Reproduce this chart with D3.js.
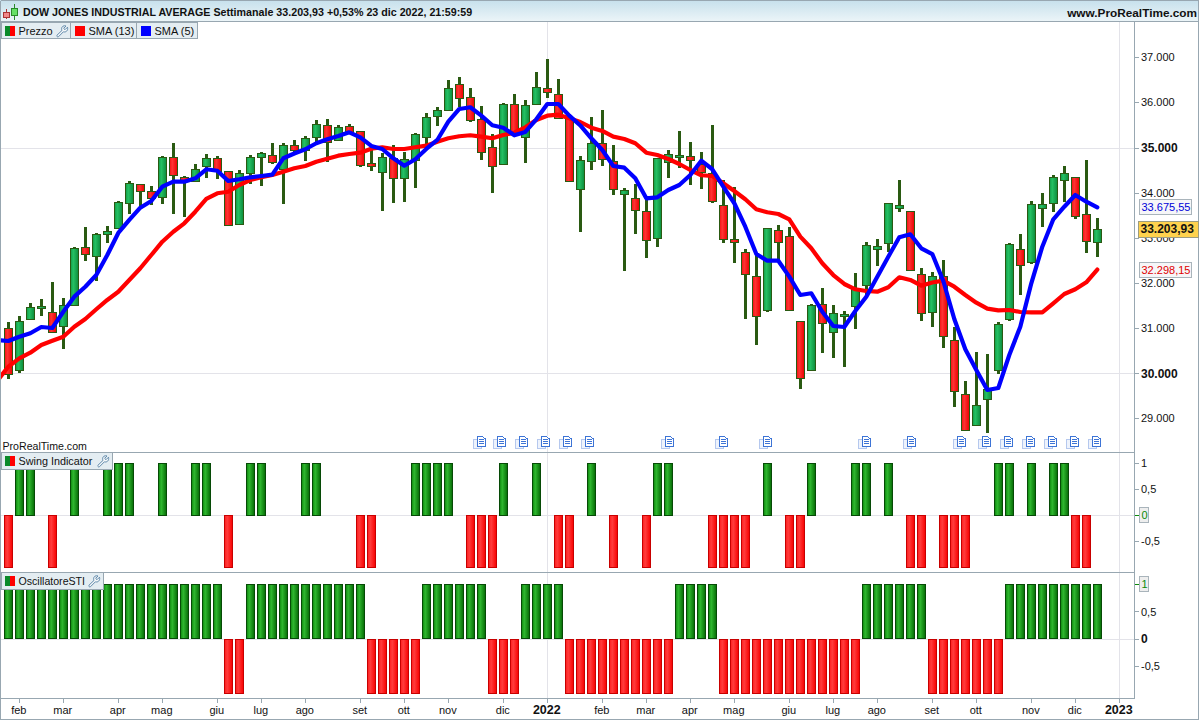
<!DOCTYPE html>
<html><head><meta charset="utf-8">
<script src="https://cdn.jsdelivr.net/npm/d3@7/dist/d3.min.js"></script>
<style>
html,body{margin:0;padding:0;background:#fff;overflow:hidden}
svg{display:block}
text{font-family:"Liberation Sans",Arial,sans-serif;font-size:11px;fill:#111}
</style></head><body><svg id="c" width="1200" height="720"></svg>
<script>
const titleText="DOW JONES INDUSTRIAL AVERAGE Settimanale 33.203,93 +0,53% 23 dic 2022, 21:59:59";
const opens=[30997,30066,31196,31453,31364,31048,31497,32791,32583,33070,
33203,33766,34186,34031,33898,34784,34355,34253,34585,34762,
34474,33291,34430,34784,34829,34519,35050,34939,35227,35493,
35161,35471,35360,34651,34452,34769,34319,34725,35227,35693,
35825,36401,36113,35626,35006,34629,35958,35227,35958,36313,
36180,35648,34076,34696,35095,34696,33965,33876,33588,32990,
34674,34798,34807,34629,34430,33721,32968,32680,32149,31395,
33167,33035,31152,30066,31528,30908,31263,31484,31945,32747,
32880,33668,33588,32193,31351,32149,30731,29535,28848,29424,
30066,31196,32747,32459,33655,33766,34275,34341,33522,32924];
const highs=[31136,31269,31557,31646,32016,31661,32791,33234,33101,33263,
33810,34253,34186,34149,34807,35095,34377,34636,34857,34807,
34474,34496,34829,34902,35095,35095,35168,35256,35611,35626,
35493,35515,35360,34946,34873,35050,34908,35316,35759,35892,
36490,36556,36313,35914,35294,35980,36180,36047,36667,36955,
36512,35648,34807,35670,35832,35050,34098,34186,33883,34762,
34939,35360,35117,34895,35500,34282,34120,32747,32620,33212,
33278,33240,31152,31528,31883,31506,31373,32215,32902,32968,
33766,34275,33588,32326,32237,32503,31019,29823,30465,30421,
31130,32880,33079,33810,33987,34386,34585,34341,34718,33433];
const lows=[29867,30013,31196,31276,30899,30545,31497,32494,32051,32893,
33203,33528,33677,33734,33757,33535,33469,34253,34333,34310,
33278,33291,34186,34142,34643,33743,34873,34709,35101,34687,
35161,35300,34576,34487,33602,33779,33801,34111,35019,35484,
35803,35892,35560,34731,34000,34629,35278,34651,35958,36091,
35626,34231,33136,34496,34598,33956,32273,33092,32561,32804,
34333,34541,34177,34089,33766,32893,32450,31209,30633,31364,
32510,31395,29652,30066,30443,30346,30146,30975,31734,32377,
32693,33579,32281,31165,31032,30554,29247,28715,28848,28671,
29991,31152,31728,32414,33234,33566,33788,33411,32658,32569];
const closes=[29984,31152,31462,31491,30921,31513,32769,32627,33079,33145,
33788,34209,34031,33876,34784,34386,34297,34519,34762,34474,
33278,34430,34784,34873,34674,35050,34939,35205,35522,35117,
35449,35323,34607,34585,34784,34319,34740,35294,35670,35825,
36313,36091,35604,34902,34585,35958,35316,35936,36335,36224,
35648,34253,34718,35095,34740,34076,34053,33610,32946,34762,
34851,34829,34718,34452,33810,32968,32902,32193,31263,33212,
32902,31395,29889,31506,31108,31329,31307,31883,32835,32813,
33766,33728,32281,31329,32149,30820,29601,28737,29291,29646,
31085,32857,32392,33743,33743,34341,34430,33478,32924,33204];
/* first value of each SMA belongs to the week just before the first candle */
const sma5=[30738,30715,30811,30886,31026,31003,31364,31697,31918,32177,
32620,33108,33396,33668,33816,34133,34244,34244,34319,34519,
34487,34259,34297,34341,34370,34399,34762,34869,34962,35095,
35183,35256,35338,35227,35035,34968,34762,34598,34740,34968,
35168,35573,35854,35892,35706,35493,35440,35272,35345,35626,
35965,35965,35706,35489,35205,34946,34592,34554,34319,33876,
33898,34060,34171,34392,34709,34519,34133,33766,33247,32642,
32494,32494,32140,31734,31772,31364,31048,31026,31380,31697,
32140,32583,33012,33079,32769,32642,32044,31203,30532,30073,
29630,29674,30405,31032,31994,32804,33411,33690,33949,33801,33675.55];
const sma13=[29836,30146,30332,30456,30627,30722,30811,31032,31203,31418,
31624,31807,32067,32326,32620,32915,33136,33322,33579,33861,
33987,34022,34171,34282,34341,34392,34465,34541,34592,34687,
34753,34820,34857,34886,34975,35006,34968,34968,35006,35041,
35130,35205,35250,35272,35241,35205,35278,35329,35449,35611,
35706,35728,35648,35566,35440,35367,35241,35190,35095,34886,
34835,34747,34636,34503,34386,34370,34209,34038,33854,33633,
33566,33528,33411,33026,32769,32437,32177,31978,31861,31823,
31807,31905,32126,32067,31940,32011,32051,31918,31734,31564,
31431,31395,31402,31358,31351,31351,31551,31756,31861,32016,32298.15];
const swing=[-1,1,1,0,-1,0,1,0,0,1,1,1,0,0,1,0,0,1,1,0,
-1,0,1,1,0,0,0,1,1,0,0,0,-1,-1,0,0,0,1,1,1,
1,0,-1,-1,-1,1,0,0,1,0,-1,-1,0,1,0,-1,0,0,-1,1,
1,0,0,0,-1,-1,-1,-1,0,1,0,-1,-1,1,0,0,0,1,1,0,
1,0,-1,-1,0,-1,-1,-1,0,0,1,1,0,1,0,1,1,-1,-1,0];
const sti=[1,1,1,1,1,1,1,1,1,1,1,1,1,1,1,1,1,1,1,1,
-1,-1,1,1,1,1,1,1,1,1,1,1,1,-1,-1,-1,-1,-1,1,1,
1,1,1,1,-1,-1,-1,1,1,1,1,-1,-1,-1,-1,-1,-1,-1,-1,-1,
-1,1,1,1,1,-1,-1,-1,-1,-1,-1,-1,-1,-1,-1,-1,-1,-1,1,1,
1,1,1,1,-1,-1,-1,-1,-1,-1,-1,1,1,1,1,1,1,1,1,1];
const priceTicks=[29000,30000,31000,32000,33000,34000,35000,36000,37000];
const boldPriceTicks=[30000,35000];
const oscTicks=[-0.5,0,0.5,1];
const timeLabels=["feb","mar","apr","mag","giu","lug","ago","set","ott","nov","dic","2022","feb","mar","apr","mag","giu","lug","ago","set","ott","nov","dic","2023"];
const timeWeeks=[1,5,10,14,19,23,27,32,36,40,45,49,54,58,62,66,71,75,79,84,88,93,97,101];
const newsWeeks=[43,44.8,46.8,48.8,50.8,52.8,60.1,65,69,78,82.1,86.6,88.9,90.85,92.85,94.85,96.85,98.85];
const lastSma5=33675.55, lastClose=33203.93, lastSma13=32298.15;

const svg=d3.select("#c");
const defs=svg.append("defs");
function grad(id,stops){
  const g=defs.append("linearGradient").attr("id",id).attr("x1",0).attr("x2",1).attr("y1",0).attr("y2",0);
  stops.forEach(s=>g.append("stop").attr("offset",s[0]).attr("stop-color",s[1]));
}
grad("cg",[[0,"#119a47"],[0.35,"#25c163"],[1,"#0c8a3c"]]);
grad("cr",[[0,"#f01010"],[0.35,"#ff3434"],[1,"#ea0000"]]);
grad("bg",[[0,"#0c860c"],[0.35,"#2fb82f"],[1,"#056a05"]]);
grad("br",[[0,"#ff1c1c"],[0.35,"#ff3c3c"],[1,"#f80000"]]);
const tb=defs.append("linearGradient").attr("id","tbar").attr("x1",0).attr("x2",0).attr("y1",0).attr("y2",1);
tb.append("stop").attr("offset",0).attr("stop-color","#c6e0ec");
tb.append("stop").attr("offset",1).attr("stop-color","#ecf5f8");
defs.append("clipPath").attr("id","plot").append("rect").attr("x",1).attr("y",22).attr("width",1133).attr("height",430);

const BORDER="#98a7b1", GRID="#e3e3e9", WICK="#2a5a12";
const x=d3.scaleLinear().domain([0,101]).range([8.3,1119.3]);
const yP=d3.scaleLinear().domain([29000,37000]).range([418.45,57.25]);
const yS=d3.scaleLinear().domain([-1,1]).range([567.3,463.3]);
const yO=d3.scaleLinear().domain([-1,1]).range([693,584.3]);
const loc=d3.formatLocale({decimal:",",thousands:".",grouping:[3],currency:["","€"],minus:"-"});
const fmtP=loc.format(",d"), fmtO=loc.format("~g"), fmtTag=loc.format(",.2f");

/* grid */
const grid=svg.append("g").attr("stroke",GRID).attr("shape-rendering","crispEdges");
[x(49),x(101)].forEach(v=>grid.append("line").attr("x1",Math.round(v)+.5).attr("x2",Math.round(v)+.5).attr("y1",22).attr("y2",698));
[yP(30000),yP(35000),yS(0),yO(0)].forEach(v=>grid.append("line").attr("x1",1).attr("x2",1134).attr("y1",Math.round(v)+.5).attr("y2",Math.round(v)+.5));

/* candles */
const idx=d3.range(opens.length);
const candles=svg.append("g").attr("clip-path","url(#plot)").attr("shape-rendering","crispEdges");
candles.selectAll("rect.w").data(idx).join("rect").attr("class","w")
  .attr("x",i=>Math.round(x(i))-1).attr("width",3)
  .attr("y",i=>yP(highs[i])).attr("height",i=>yP(lows[i])-yP(highs[i]))
  .attr("fill",WICK);
candles.selectAll("rect.b").data(idx).join("rect").attr("class","b")
  .attr("x",i=>Math.round(x(i)-4)+.5).attr("width",8)
  .attr("y",i=>Math.round(yP(Math.max(opens[i],closes[i])))+.5)
  .attr("height",i=>Math.max(2,Math.round(yP(Math.min(opens[i],closes[i]))-yP(Math.max(opens[i],closes[i])))))
  .attr("fill",i=>closes[i]>=opens[i]?"url(#cg)":"url(#cr)")
  .attr("stroke",WICK);

/* moving averages */
const line=d3.line().x((d,i)=>x(i-1)).y(d=>yP(d));
const lines=svg.append("g").attr("clip-path","url(#plot)").attr("fill","none").attr("stroke-width",4.2).attr("stroke-linejoin","round").attr("stroke-linecap","round");
lines.append("path").attr("d",line(sma13)).attr("stroke","#ff0000");
lines.append("path").attr("d",line(sma5)).attr("stroke","#0000ff");

/* indicator panels */
function panel(vals,y){
  const g=svg.append("g").attr("shape-rendering","crispEdges");
  g.selectAll("rect").data(idx.filter(i=>vals[i]!==0)).join("rect")
    .attr("x",i=>Math.round(x(i)-4)+.5).attr("width",8)
    .attr("y",i=>Math.round(Math.min(y(vals[i]),y(0)))+.5)
    .attr("height",i=>Math.round(Math.abs(y(vals[i])-y(0))))
    .attr("fill",i=>vals[i]>0?"url(#bg)":"url(#br)")
    .attr("stroke",i=>vals[i]>0?"#064a06":"#c80000");
}
panel(swing,yS); panel(sti,yO);

/* news icons */
const news=svg.append("g").attr("shape-rendering","crispEdges");
newsWeeks.forEach(w=>{
  const cx=Math.round(x(w))+1;
  const n=news.append("g").attr("transform",`translate(${cx},441)`);
  n.append("rect").attr("x",-8.5).attr("y",-1.5).attr("width",8).attr("height",9).attr("fill","#eef3fc").attr("stroke","#b5c8ee");
  n.append("rect").attr("x",-4.5).attr("y",-4.5).attr("width",8).attr("height",10).attr("fill","#fff").attr("stroke","#3d74d6");
  [-2,0,2].forEach(dy=>n.append("rect").attr("x",-3).attr("y",dy).attr("width",5).attr("height",1).attr("fill","#3d74d6"));
  n.append("rect").attr("x",1).attr("y",-5).attr("width",3).attr("height",2).attr("fill","#fff");
  n.append("path").attr("d","M0.5 -4.5 L3.5 -1.5").attr("stroke","#3d74d6").attr("fill","none");
});

/* frame */
const fr=svg.append("g").attr("stroke",BORDER).attr("shape-rendering","crispEdges");
svg.insert("rect","defs + *").attr("x",0).attr("y",0).attr("width",1199).attr("height",21.5).attr("fill","url(#tbar)");
[[0.5,0.5,0.5,719.5],[1198.5,0.5,1198.5,719.5],[0.5,0.5,1198.5,0.5],[0.5,21.5,1198.5,21.5],[0.5,719.5,1198.5,719.5],
 [0.5,452.5,1134.5,452.5],[0.5,572.5,1134.5,572.5],[0.5,698.5,1134.5,698.5],[1134.5,21.5,1134.5,698.5]]
 .forEach(l=>fr.append("line").attr("x1",l[0]).attr("y1",l[1]).attr("x2",l[2]).attr("y2",l[3]));

/* value axes */
function styleAxis(g){
  g.select(".domain").remove();
  g.selectAll(".tick line").attr("stroke",BORDER).attr("shape-rendering","crispEdges");
  g.selectAll(".tick text").attr("fill","#111").style("font-size","11px");
}
const axP=svg.append("g").attr("transform","translate(1135,0)")
  .call(d3.axisRight(yP).tickValues(priceTicks).tickSize(4).tickPadding(2).tickFormat(fmtP)).call(styleAxis);
axP.selectAll(".tick text").filter(d=>boldPriceTicks.includes(d)).style("font-weight","bold").style("font-size","12px");
const axS=svg.append("g").attr("transform","translate(1135,0)")
  .call(d3.axisRight(yS).tickValues(oscTicks).tickSize(4).tickPadding(2).tickFormat(fmtO)).call(styleAxis);
const axO=svg.append("g").attr("transform","translate(1135,0)")
  .call(d3.axisRight(yO).tickValues(oscTicks).tickSize(4).tickPadding(2).tickFormat(fmtO)).call(styleAxis);
axO.selectAll(".tick text").filter(d=>d===0).style("font-weight","bold").style("font-size","12px");

/* time axis */
const axT=svg.append("g").attr("transform","translate(0,698.5)")
  .call(d3.axisBottom(x).tickValues(timeWeeks).tickSize(4).tickPadding(4).tickFormat((d,i)=>timeLabels[i]));
axT.select(".domain").remove();
axT.selectAll(".tick line").attr("stroke",BORDER).attr("shape-rendering","crispEdges");
axT.selectAll(".tick text").attr("fill","#111").attr("dx",-1).style("font-size","11px");
axT.selectAll(".tick text").filter((d,i)=>/^\d/.test(timeLabels[i])).style("font-weight","bold").style("font-size","12.5px").attr("dy","0.62em");

/* value tags */
function tag(cy,txt,o){
  const g=svg.append("g");
  g.append("rect").attr("x",o.x+.5).attr("y",Math.round(cy-8)+.5).attr("width",o.w).attr("height",o.h||15)
    .attr("fill",o.fill).attr("stroke",o.stroke||"#a9b4bb").attr("shape-rendering","crispEdges");
  g.append("text").attr("x",o.x+2.5).attr("y",cy+4).text(txt).style("fill",o.color).style("font-weight",o.bold?"bold":"normal").style("font-size",o.size||"11px");
}
tag(yP(lastSma5),fmtTag(lastSma5),{x:1139,w:52,fill:"#f6f6f8",color:"#0000d8"});
tag(yP(lastSma13),fmtTag(lastSma13),{x:1139,w:52,fill:"#f6f6f8",color:"#e00000"});
tag(yP(lastClose),fmtTag(lastClose),{x:1138,w:60,h:16,fill:"#ffd24d",color:"#111",bold:true,size:"12px",stroke:"#9c9c80"});
function zeroTag(cy,txt){
  svg.append("line").attr("x1",1135).attr("x2",1139).attr("y1",Math.round(cy)+.5).attr("y2",Math.round(cy)+.5).attr("stroke","#0a8a0a").attr("shape-rendering","crispEdges");
  tag(cy,txt,{x:1139,w:9,fill:"#eeeeee",color:"#0a8a0a"});
}
axS.selectAll(".tick").filter(d=>d===0).select("text").remove();
axO.selectAll(".tick").filter(d=>d===1).select("text").remove();
zeroTag(yS(0),fmtO(0)); zeroTag(yO(1),fmtO(1));

/* header text */
svg.append("text").attr("x",23).attr("y",16).text(titleText).style("font-weight","bold").style("font-size","10.7px");
svg.append("text").attr("x",1197).attr("y",17).attr("text-anchor","end").text("www.ProRealTime.com").style("font-weight","bold").style("font-size","11.8px");
svg.append("text").attr("x",2.5).attr("y",450).text("ProRealTime.com").style("font-size","10.6px");

/* title icon */
const ic=svg.append("g").attr("shape-rendering","crispEdges");
ic.append("rect").attr("x",5.5).attr("y",9).attr("width",1).attr("height",10).attr("fill","#a33");
ic.append("rect").attr("x",3.5).attr("y",12.5).attr("width",6).attr("height",5).attr("fill","#f08888").attr("stroke","#a33");
ic.append("rect").attr("x",13.5).attr("y",4).attr("width",1).attr("height",16).attr("fill","#2a8a2a");
ic.append("rect").attr("x",11.5).attr("y",8.5).attr("width",6).attr("height",7).attr("fill","#66e066").attr("stroke","#2a8a2a");

/* legend boxes */
function wrench(gx,gy,g){
  g.append("path").attr("transform",`translate(${gx},${gy})`)
   .attr("d","M11.5 2.2 L9 4.7 L7.6 3.3 L10 1 C8 .1 5.6 1.4 5.6 3.8 C5.6 4.5 5.8 5 6 5.4 L1 10.2 C.2 11 1.6 12.6 2.5 11.7 L7.4 6.8 C9.6 7.6 12.4 5.8 11.5 2.2 Z")
   .attr("fill","#f4f7f9").attr("stroke","#6089ab").attr("stroke-width",1);
}
function legend(x0,x1,y0,y1,label,type,sqOff,wrenchX,fs){
  const g=svg.append("g");
  g.append("rect").attr("x",x0+.5).attr("y",y0+.5).attr("width",x1-x0).attr("height",y1-y0)
    .attr("fill","#e4edf2").attr("stroke",BORDER).attr("shape-rendering","crispEdges");
  const sx=x0+sqOff, sy=y0+4;
  if(type==="split"){
    g.append("rect").attr("x",sx).attr("y",sy).attr("width",5).attr("height",10).attr("fill","#0a8a2a");
    g.append("rect").attr("x",sx+5).attr("y",sy).attr("width",5).attr("height",10).attr("fill","#ff0000");
  } else {
    g.append("rect").attr("x",sx).attr("y",sy).attr("width",10).attr("height",10).attr("fill",type);
  }
  g.append("text").attr("x",sx+13.5).attr("y",y0+13).text(label).style("font-size",fs||"11px");
  if(wrenchX) wrench(wrenchX,y0+3,g);
}
legend(1,70,22,38,"Prezzo","split",4,56);
legend(70,136,22,38,"SMA (13)","#ff0000",5);
legend(136,197,22,38,"SMA (5)","#0000ff",5);
legend(1,112,452,469,"Swing Indicator","split",4,97,"10.8px");
legend(1,103,572,589,"OscillatoreSTI","split",4,88,"10.6px");
</script>
</body></html>
